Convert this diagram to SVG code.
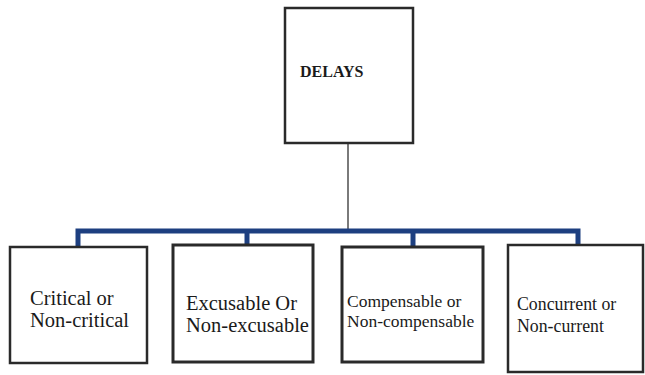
<svg xmlns="http://www.w3.org/2000/svg" width="645" height="375" viewBox="0 0 645 375">
<style>
.box{fill:#fff;stroke:#2a2a2a;stroke-width:2.5}
.bus{fill:none;stroke:#1d3f80;stroke-width:5;stroke-linejoin:miter}
.stem{stroke:#7a7a7a;stroke-width:2}
</style>
<rect width="645" height="375" fill="#fff"/>
<g id="connectors">
<line class="stem" x1="348" y1="143" x2="348" y2="230"/>
<path class="bus" d="M78,247 V231 H578 V247"/>
<line class="bus" x1="247" y1="231" x2="247" y2="246"/>
<line class="bus" x1="413" y1="231" x2="413" y2="247"/>
</g>
<g id="delays">
<rect class="box" x="285" y="8" width="128" height="135"/>
<text x="300" y="77" font-size="16" font-weight="bold" font-family="Liberation Serif" fill="#1a1a1a">DELAYS</text>
</g>
<g id="critical">
<rect class="box" x="10" y="247" width="137" height="116"/>
<text x="30" y="305" font-size="20.5" font-family="Liberation Serif" fill="#1a1a1a">Critical or</text>
<text x="30" y="327" font-size="20.5" font-family="Liberation Serif" fill="#1a1a1a">Non-critical</text>
</g>
<g id="excusable">
<rect class="box" x="173" y="245" width="140" height="117" style="stroke-width:3"/>
<text x="186" y="310" font-size="20.5" font-family="Liberation Serif" fill="#1a1a1a">Excusable Or</text>
<text x="186" y="332" font-size="20.5" font-family="Liberation Serif" fill="#1a1a1a">Non-excusable</text>
</g>
<g id="compensable">
<rect class="box" x="342" y="247" width="141" height="115" style="stroke-width:3"/>
<text x="347" y="307" font-size="17.5" font-family="Liberation Serif" fill="#1a1a1a">Compensable or</text>
<text x="347" y="327" font-size="17.5" font-family="Liberation Serif" fill="#1a1a1a">Non-compensable</text>
</g>
<g id="concurrent">
<rect class="box" x="508" y="245" width="135" height="127"/>
<text x="517" y="310" font-size="17.8" font-family="Liberation Serif" fill="#1a1a1a">Concurrent or</text>
<text x="517" y="332" font-size="17.8" font-family="Liberation Serif" fill="#1a1a1a">Non-current</text>
</g>
</svg>
